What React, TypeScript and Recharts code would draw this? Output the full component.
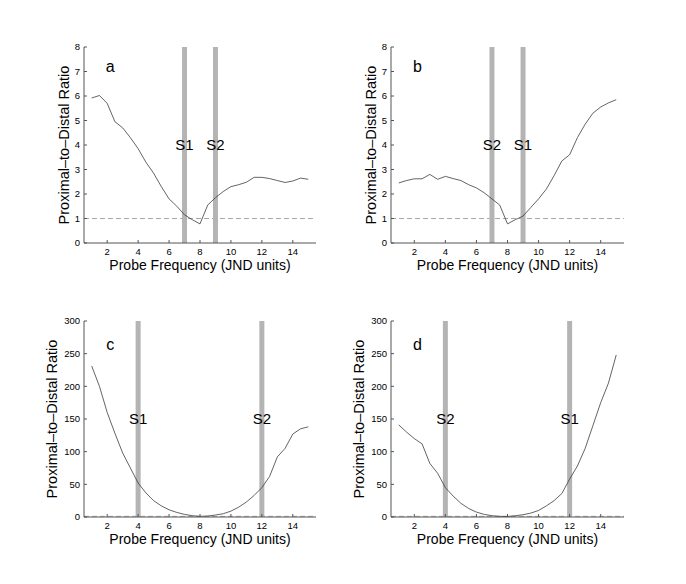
import React from "react";
import {
  LineChart,
  Line,
  XAxis,
  YAxis,
  ReferenceLine,
  ReferenceDot,
} from "recharts";

const probeFreq = [
  1, 1.5, 2, 2.5, 3, 3.5, 4, 4.5, 5, 5.5, 6, 6.5, 7, 7.5, 8, 8.5, 9, 9.5, 10,
  10.5, 11, 11.5, 12, 12.5, 13, 13.5, 14, 14.5, 15,
];

const ratioA = [
  5.92, 6.02, 5.7, 4.95, 4.7, 4.3, 3.85, 3.3, 2.85, 2.3, 1.8, 1.5, 1.15, 0.95,
  0.78, 1.55, 1.85, 2.1, 2.3, 2.38, 2.48, 2.68, 2.68, 2.63, 2.55, 2.47, 2.53,
  2.65, 2.6,
];
const ratioB = [
  2.45, 2.55, 2.62, 2.62, 2.8, 2.6, 2.72, 2.63, 2.55, 2.38, 2.25, 2.05, 1.8,
  1.55, 0.78, 0.95, 1.1, 1.45, 1.8, 2.2, 2.75, 3.35, 3.6, 4.3, 4.85, 5.3, 5.55,
  5.72, 5.85,
];
const ratioC = [
  231, 200, 160, 128, 98, 75, 52, 37, 25, 17, 11, 7, 4, 2, 1, 1.5, 3, 5, 9, 15,
  23, 33, 45, 62, 92, 105, 127, 135, 138,
];
const ratioD = [
  141, 130, 120, 112, 82, 67, 45, 32, 21, 13, 7.5, 4, 2, 1, 0.8, 2, 3.5, 6, 10,
  17, 25, 36, 58, 78, 105, 140, 175, 205, 248,
];

const xTicks = [2, 4, 6, 8, 10, 12, 14];
const smallYTicks = [0, 1, 2, 3, 4, 5, 6, 7, 8];
const bigYTicks = [0, 50, 100, 150, 200, 250, 300];

const W = 686;
const H = 584;
const AXIS = "#555";
const BAR = "#b4b4b4";

type PanelProps = {
  letter: string;
  values: number[];
  yTicks: number[];
  yMax: number;
  letterY: number;
  stims: { x: number; name: string }[];
  plotX: number;
  plotY: number;
  plotW: number;
  plotH: number;
  yWidth: number;
};

function Panel(p: PanelProps) {
  const data = probeFreq.map((f, i) => ({ f, v: p.values[i] }));
  const margin = {
    top: p.plotY,
    left: p.plotX - p.yWidth,
    right: W - p.plotX - p.plotW,
    bottom: H - p.plotY - p.plotH - 30,
  };
  const tickStyle = { fontSize: 9.5, fill: "#000" };
  return (
    <div style={{ position: "absolute", left: 0, top: 0 }}>
      <LineChart width={W} height={H} data={data} margin={margin}>
        <XAxis
          dataKey="f"
          type="number"
          domain={[0.5, 15.5]}
          ticks={xTicks}
          height={30}
          stroke={AXIS}
          tickSize={-3}
          tickMargin={8.5}
          tick={tickStyle}
          label={{
            value: "Probe Frequency (JND units)",
            position: "insideTop",
            offset: 17,
            fontSize: 14,
            fill: "#000",
          }}
        />
        <XAxis
          xAxisId="top"
          orientation="top"
          dataKey="f"
          type="number"
          domain={[0.5, 15.5]}
          ticks={xTicks}
          height={0}
          stroke={AXIS}
          tickSize={-3}
          tick={false}
        />
        <YAxis
          type="number"
          domain={[0, p.yMax]}
          ticks={p.yTicks}
          width={p.yWidth}
          stroke={AXIS}
          tickSize={-3}
          tickMargin={7}
          tick={tickStyle}
          label={{
            value: "Proximal–to–Distal Ratio",
            angle: -90,
            position: "center",
            fontSize: 14.5,
            fill: "#000",
          }}
        />
        <YAxis
          yAxisId="right"
          orientation="right"
          type="number"
          domain={[0, p.yMax]}
          ticks={p.yTicks}
          width={0}
          stroke={AXIS}
          tickSize={-3}
          tick={false}
        />
        <ReferenceLine
          y={1}
          stroke="#a8a8a8"
          strokeDasharray="5 3"
          strokeWidth={1}
        />
        {p.stims.map((s) => (
          <ReferenceLine
            key={s.name}
            x={s.x}
            stroke={BAR}
            strokeWidth={5}
            label={{
              value: s.name,
              position: "center",
              fontSize: 15,
              fill: "#000",
            }}
          />
        ))}
        <ReferenceDot
          x={2.2}
          y={p.letterY}
          r={1}
          fill="none"
          stroke="none"
          label={{ value: p.letter, position: "center", fontSize: 16, fill: "#000" }}
        />
        <Line
          dataKey="v"
          type="linear"
          stroke="#3c3c3c"
          strokeWidth={0.8}
          dot={false}
          isAnimationActive={false}
        />
      </LineChart>
    </div>
  );
}

export default function App() {
  return (
    <div
      style={{
        position: "absolute",
        left: 0,
        top: 0,
        width: W,
        height: H,
        background: "#fff",
        fontFamily: "'Liberation Sans', Arial, Helvetica, sans-serif",
      }}
    >
      <Panel
        letter="a"
        values={ratioA}
        yTicks={smallYTicks}
        yMax={8}
        letterY={7.2}
        stims={[
          { x: 7, name: "S1" },
          { x: 9, name: "S2" },
        ]}
        plotX={84}
        plotY={47}
        plotW={232}
        plotH={196}
        yWidth={40}
      />
      <Panel
        letter="b"
        values={ratioB}
        yTicks={smallYTicks}
        yMax={8}
        letterY={7.2}
        stims={[
          { x: 7, name: "S2" },
          { x: 9, name: "S1" },
        ]}
        plotX={391}
        plotY={47}
        plotW={233}
        plotH={196}
        yWidth={40}
      />
      <Panel
        letter="c"
        values={ratioC}
        yTicks={bigYTicks}
        yMax={300}
        letterY={264}
        stims={[
          { x: 4, name: "S1" },
          { x: 12, name: "S2" },
        ]}
        plotX={84}
        plotY={321}
        plotW={232}
        plotH={196}
        yWidth={64}
      />
      <Panel
        letter="d"
        values={ratioD}
        yTicks={bigYTicks}
        yMax={300}
        letterY={264}
        stims={[
          { x: 4, name: "S2" },
          { x: 12, name: "S1" },
        ]}
        plotX={391}
        plotY={321}
        plotW={233}
        plotH={196}
        yWidth={64}
      />
    </div>
  );
}
